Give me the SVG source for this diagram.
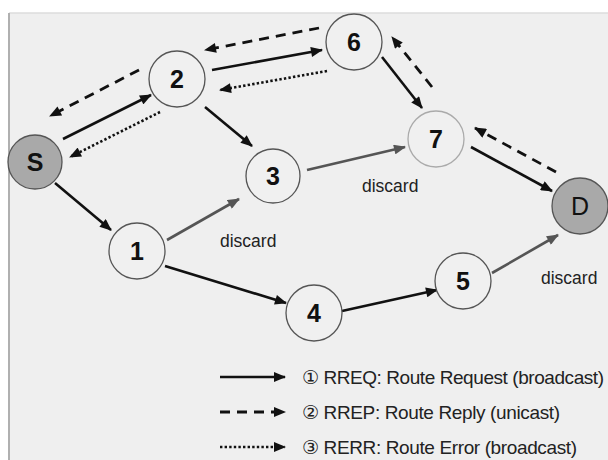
<svg xmlns="http://www.w3.org/2000/svg" width="608" height="460" viewBox="0 0 608 460">
<style>
.nd{fill:#f0f0f0;stroke:#555;stroke-width:1.3}
.end{fill:#a9a9a9;stroke:#555;stroke-width:1.3}
.lb{font-family:"Liberation Sans",Arial,sans-serif;font-weight:bold;font-size:25px;fill:#111;text-anchor:middle}
.dc{font-family:"Liberation Sans",Arial,sans-serif;font-size:17.5px;fill:#222}
.lg{font-family:"Liberation Sans","DejaVu Sans",Arial,sans-serif;font-size:19px;fill:#222}
.s{fill:none;stroke:#111;stroke-width:2.6;marker-end:url(#ab)}
.g{fill:none;stroke:#555;stroke-width:2.6;marker-end:url(#ag)}
.d{fill:none;stroke:#111;stroke-width:2.8;stroke-dasharray:10 7;marker-end:url(#ab)}
.o{fill:none;stroke:#111;stroke-width:2.6;stroke-dasharray:2.4 2.2;marker-end:url(#ab)}
</style>
<defs>
<marker id="ab" viewBox="0 0 12 10" refX="11" refY="5" markerWidth="13" markerHeight="10" markerUnits="userSpaceOnUse" orient="auto"><path d="M0,0 L12,5 L0,10 Z" fill="#111"/></marker>
<marker id="ag" viewBox="0 0 12 10" refX="11" refY="5" markerWidth="13" markerHeight="10" markerUnits="userSpaceOnUse" orient="auto"><path d="M0,0 L12,5 L0,10 Z" fill="#555"/></marker>
</defs>
<rect x="0" y="0" width="608" height="460" fill="#ffffff"/>
<rect x="9" y="13" width="599" height="447" fill="#efefef"/>
<line x1="9" y1="13" x2="608" y2="13" stroke="#dcdcdc" stroke-width="1.5"/>
<line x1="9" y1="13" x2="9" y2="460" stroke="#b0b0b0" stroke-width="2"/>
<g id="connectors">
<path class="s" d="M63,139 L151,95"/>
<path class="o" d="M160,112 L70,157"/>
<path class="d" d="M139,70 L50,116"/>
<path class="s" d="M205,107 L252,146"/>
<path class="s" d="M55,183 L111,230"/>
<path class="g" d="M167,240 L239,199"/>
<path class="s" d="M212,70 L322,50"/>
<path class="d" d="M319,28 L205,50"/>
<path class="o" d="M327,71 L220,90"/>
<path class="s" d="M382,57 L422,108"/>
<path class="d" d="M432,87 L392,37"/>
<path class="g" d="M307,170 L405,147"/>
<path class="s" d="M471,147 L552,191"/>
<path class="d" d="M556,172 L475,128"/>
<path class="s" d="M165,266 L286,303"/>
<path class="s" d="M342,311 L437,290"/>
<path class="g" d="M492,273 L558,235"/>
</g>
<g id="node-S"><circle class="end" cx="35" cy="162" r="27"/><text class="lb" x="35" y="171">S</text></g>
<g id="node-2"><circle class="nd" cx="177" cy="79" r="28"/><text class="lb" x="177" y="88">2</text></g>
<g id="node-3"><circle class="nd" cx="273" cy="176" r="27"/><text class="lb" x="273" y="185">3</text></g>
<g id="node-6"><circle class="nd" cx="354" cy="42" r="28"/><text class="lb" x="354" y="51">6</text></g>
<g id="node-7"><circle class="nd" cx="436" cy="139" r="28" style="stroke:#aaa"/><text class="lb" x="436" y="148">7</text></g>
<g id="node-D"><circle class="end" cx="580" cy="206" r="28"/><text class="lb" x="580" y="215" style="font-weight:normal">D</text></g>
<g id="node-1"><circle class="nd" cx="137" cy="251" r="28"/><text class="lb" x="137" y="260">1</text></g>
<g id="node-4"><circle class="nd" cx="314" cy="313" r="28"/><text class="lb" x="314" y="322">4</text></g>
<g id="node-5"><circle class="nd" cx="463" cy="281" r="28"/><text class="lb" x="463" y="290">5</text></g>
<text class="dc" x="220" y="247">discard</text>
<text class="dc" x="362" y="192">discard</text>
<text class="dc" x="541" y="284">discard</text>
<g id="legend">
<line x1="220" y1="377" x2="285" y2="377" stroke="#111" stroke-width="2.6" marker-end="url(#ab)"/>
<line x1="220" y1="412" x2="285" y2="412" stroke="#111" stroke-width="2.8" stroke-dasharray="10 7" marker-end="url(#ab)"/>
<line x1="220" y1="447" x2="285" y2="447" stroke="#111" stroke-width="2.6" stroke-dasharray="2.4 2.2" marker-end="url(#ab)"/>
<text class="lg" x="302" y="384" textLength="302">① RREQ: Route Request (broadcast)</text>
<text class="lg" x="302" y="419" textLength="258">② RREP: Route Reply (unicast)</text>
<text class="lg" x="302" y="454" textLength="275">③ RERR: Route Error (broadcast)</text>
</g>
</svg>
